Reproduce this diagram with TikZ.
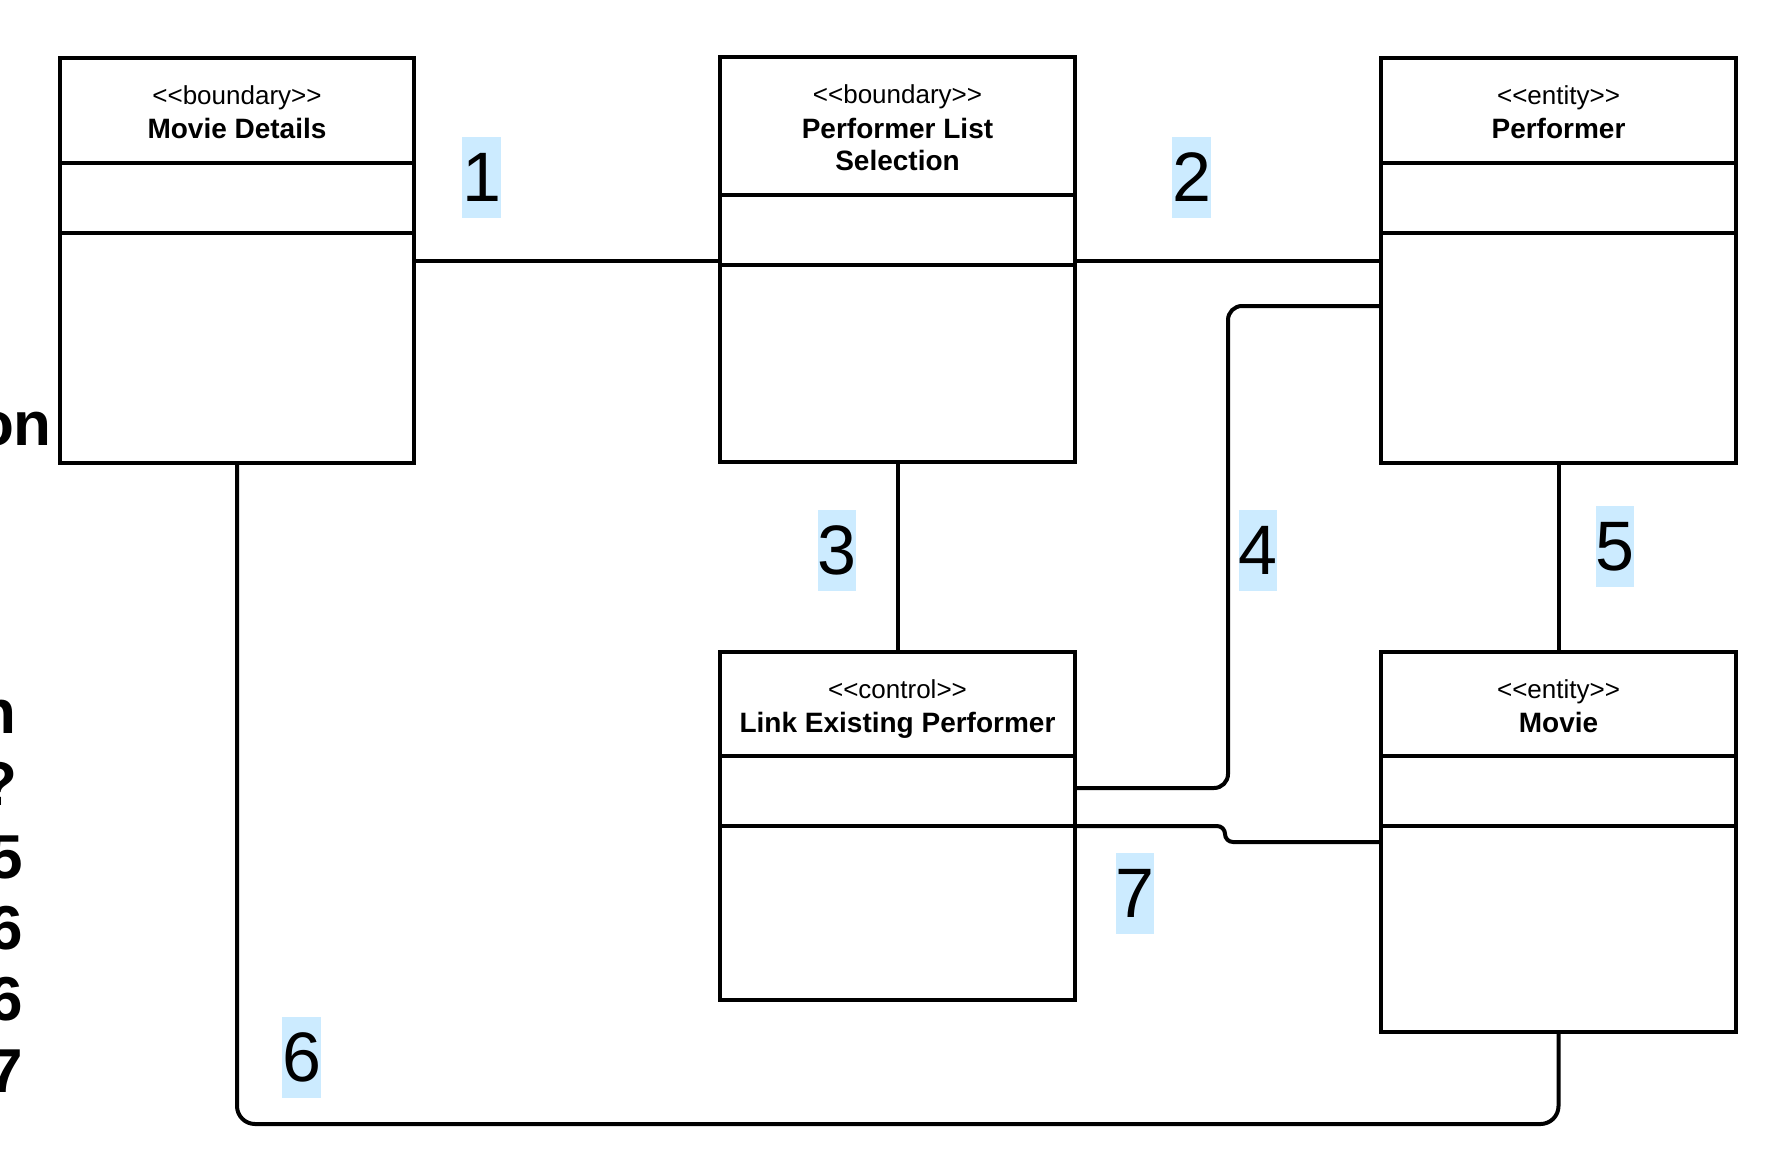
\documentclass[tikz,border=0pt]{standalone}
\usepackage{fontspec}
\setmainfont{Liberation Sans}
\definecolor{labelblue}{RGB}{204,235,255}
\tikzset{
  classbox/.style={draw, line width=4pt, inner sep=0pt, outer sep=0pt, minimum width=355pt},
  sepline/.style={line width=4pt},
  conn/.style={line width=4pt},
  stereo/.style={anchor=base, inner sep=0pt, font=\fontsize{26}{30}\selectfont},
  cname/.style={anchor=base, inner sep=0pt, font=\fontsize{28}{32}\selectfont\bfseries},
  numlabel/.style={fill=labelblue, minimum width=37pt, minimum height=81pt, inner sep=0pt, font=\fontsize{70}{80}\selectfont},
  cuttext/.style={anchor=base east, inner sep=0pt, font=\fontsize{62}{70}\selectfont\bfseries},
}
\newcommand{\stlt}{<\kern0pt<}
\newcommand{\stgt}{>\kern0pt>}
\begin{document}
\begin{tikzpicture}[x=1pt,y=-1pt]
\fill[white] (0,0) rectangle (1779,1167);
\useasboundingbox (0,0) rectangle (1779,1167);

% cut-off text at left margin
\node[cuttext] (t1) at (52,445) {on};
\node[cuttext] (t2) at (17,733) {n};
\node[cuttext] (t3) at (18,805) {?};
\node[cuttext] (t4) at (23,878) {5};
\node[cuttext] (t5) at (23,949) {6};
\node[cuttext] (t6) at (23,1020) {6};
\node[cuttext] (t7) at (23,1092) {7};

% class boxes
\node[classbox, minimum width=354pt, minimum height=405pt] (md) at (237,260.5) {};
\node[classbox, minimum height=405pt] (pls) at (897.5,259.5) {};
\node[classbox, minimum height=405pt] (perf) at (1558.5,260.5) {};
\node[classbox, minimum height=348pt] (lep) at (897.5,826) {};
\node[classbox, minimum height=380pt] (movie) at (1558.5,842) {};

% compartments
\draw[sepline] (md.west |- 0,163) -- (md.east |- 0,163);
\draw[sepline] (md.west |- 0,233) -- (md.east |- 0,233);
\draw[sepline] (pls.west |- 0,195) -- (pls.east |- 0,195);
\draw[sepline] (pls.west |- 0,265) -- (pls.east |- 0,265);
\draw[sepline] (perf.west |- 0,163) -- (perf.east |- 0,163);
\draw[sepline] (perf.west |- 0,233) -- (perf.east |- 0,233);
\draw[sepline] (lep.west |- 0,756) -- (lep.east |- 0,756);
\draw[sepline] (lep.west |- 0,826) -- (lep.east |- 0,826);
\draw[sepline] (movie.west |- 0,756) -- (movie.east |- 0,756);
\draw[sepline] (movie.west |- 0,826) -- (movie.east |- 0,826);

% header texts
\node[stereo] (mds) at (237,104) {\stlt boundary\stgt};
\node[cname] (mdn) at (237,138) {Movie Details};
\node[stereo] (plss) at (897.5,103) {\stlt boundary\stgt};
\node[cname] (plsn1) at (897.5,138) {Performer List};
\node[cname] (plsn2) at (897.5,170) {Selection};
\node[stereo] (perfs) at (1558.5,104) {\stlt entity\stgt};
\node[cname] (perfn) at (1558.5,138) {Performer};
\node[stereo] (leps) at (897.5,698) {\stlt control\stgt};
\node[cname] (lepn) at (897.5,732) {Link Existing Performer};
\node[stereo] (movs) at (1558.5,698) {\stlt entity\stgt};
\node[cname] (movn) at (1558.5,732) {Movie};

% connectors
\draw[conn] (md.east) -- (pls.west |- md.east);
\draw[conn] (pls.east |- perf.west) -- (perf.west);
\draw[conn] (pls.south) -- (lep.north);
\draw[conn, rounded corners=14pt] (perf.west |- 0,306) -| (1228,788) -- (lep.east |- 0,788);
\draw[conn] (perf.south) -- (movie.north);
\draw[conn, rounded corners=18pt] (md.south) |- (movie.south |- 0,1124) -- (movie.south);
\draw[conn, rounded corners=8pt] (lep.east |- 0,826) -| (1225,842) -- (movie.west |- 0,842);

% number labels
\node[numlabel] (l1) at (481.5,177) {1};
\node[numlabel] (l2) at (1191.5,177) {2};
\node[numlabel] (l3) at (837,550) {3};
\node[numlabel] (l4) at (1258,550) {4};
\node[numlabel] (l5) at (1615,546.5) {5};
\node[numlabel] (l6) at (301.5,1057.5) {6};
\node[numlabel] (l7) at (1135,893) {7};
\end{tikzpicture}
\end{document}
